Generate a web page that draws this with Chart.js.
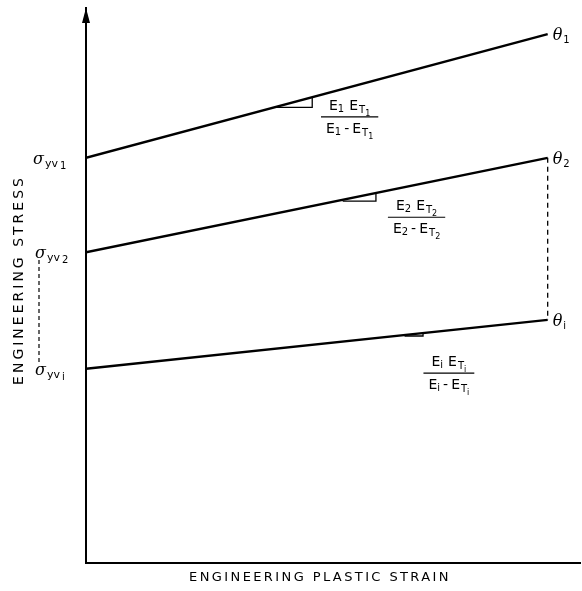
<!DOCTYPE html>
<html>
<head>
<meta charset="utf-8">
<script src="https://cdn.jsdelivr.net/npm/chart.js@4.4.1/dist/chart.umd.min.js"></script>
<style>
  html, body { margin: 0; padding: 0; background: #fff; }
  #wrap { width: 582px; height: 591px; }
</style>
</head>
<body>
<div id="wrap"><canvas id="c" width="582" height="591"></canvas></div>
<script>
// Bilinear hardening lines: plastic strain at start/end, stress at start/end
const strain = [0, 1.0];
const stressTheta1 = [73, 95.3];
const stressTheta2 = [56, 73];
const stressThetaI = [35, 43.8];

// Slope markers (small right triangles) sitting on each line
const tri1Strain = [0.41, 0.49, 0.49];
const tri1Stress = [82.1, 82.1, 83.9];
const tri2Strain = [0.556, 0.628, 0.628];
const tri2Stress = [65.2, 65.2, 66.7];
const tri3Strain = [0.69, 0.73, 0.73];
const tri3Stress = [40.9, 40.9, 41.4];

// Dashed bracket joining the theta2 and theta-i end points
const bracketStrain = [1.0, 1.0];
const bracketStress = [73, 43.8];

// Dashed bracket on the stress axis between the yield labels
const yieldBracketStress = [54.6, 36.0];

// Labels
const yieldSubs = ['1', '2', 'i'];
const yieldStress = [73, 56, 35];
const thetaSubs = ['1', '2', 'i'];
const thetaStress = [95.3, 73, 43.8];
const slopeSubs = ['1', '2', 'i'];
const slopeStrain = [0.571, 0.716, 0.786];
const slopeStress = [80.4, 62.3, 34.2];

const xTitle = 'ENGINEERING PLASTIC STRAIN';
const yTitle = 'ENGINEERING STRESS';

function pts(xs, ys) { return xs.map((x, i) => ({ x, y: ys[i] })); }

const lineStyle = { showLine: true, pointRadius: 0, borderColor: '#000', borderWidth: 2.4, fill: false, tension: 0 };
const thinStyle = { showLine: true, pointRadius: 0, borderColor: '#000', borderWidth: 1.3, fill: false, tension: 0 };

const FAM = '"DejaVu Sans", sans-serif';

function rich(ctx, x, y, parts, align) {
  let w = 0;
  parts.forEach(p => { ctx.font = p.f; p.w = ctx.measureText(p.t).width + (p.gap || 0); w += p.w; });
  let cx = align === 'center' ? x - w / 2 : (align === 'right' ? x - w : x);
  parts.forEach(p => { ctx.font = p.f; ctx.fillText(p.t, cx, y + (p.dy || 0)); cx += p.w; });
  return w;
}

const annotations = {
  id: 'annotations',
  afterDraw(chart) {
    const ctx = chart.ctx;
    const xs = chart.scales.x, ys = chart.scales.y;
    const area = chart.chartArea;
    ctx.save();
    ctx.fillStyle = '#000';
    ctx.strokeStyle = '#000';
    ctx.textBaseline = 'alphabetic';

    // arrow head at the top of the stress axis
    ctx.beginPath();
    ctx.moveTo(area.left, area.top);
    ctx.lineTo(area.left - 4, area.top + 15);
    ctx.lineTo(area.left + 4, area.top + 15);
    ctx.closePath();
    ctx.fill();

    const F = '14px ' + FAM, S = '10px ' + FAM, SS = '8px ' + FAM;
    const G = 'italic 16px "DejaVu Serif", serif';

    // yield stress labels on the stress axis
    const yieldX = [33, 35, 35];
    yieldSubs.forEach((s, i) => {
      const py = ys.getPixelForValue(yieldStress[i]) + 6;
      rich(ctx, yieldX[i], py, [
        { t: 'σ', f: G, gap: 1 },
        { t: 'yv', f: '11px ' + FAM, dy: 3, gap: 2 },
        { t: s, f: S, dy: 5 }
      ], 'left');
    });

    // dashed bracket between sigma_yv2 and sigma_yvi
    ctx.lineWidth = 1.2;
    ctx.setLineDash([4, 3]);
    ctx.beginPath();
    ctx.moveTo(39, ys.getPixelForValue(yieldBracketStress[0]));
    ctx.lineTo(39, ys.getPixelForValue(yieldBracketStress[1]));
    ctx.stroke();
    ctx.setLineDash([]);

    // theta labels at the right end of each line
    thetaSubs.forEach((s, i) => {
      const px = xs.getPixelForValue(strain[1]) + 5;
      const py = ys.getPixelForValue(thetaStress[i]) + 6;
      rich(ctx, px, py, [
        { t: 'θ', f: G, gap: 1 },
        { t: s, f: S, dy: 3 }
      ], 'left');
    });

    // tangent modulus fractions
    slopeSubs.forEach((s, i) => {
      const cx = xs.getPixelForValue(slopeStrain[i]);
      const by = ys.getPixelForValue(slopeStress[i]);
      const num = [
        { t: 'E', f: F }, { t: s, f: S, dy: 2, gap: 5 },
        { t: 'E', f: F, gap: 1 }, { t: 'T', f: S, dy: 3 }, { t: s, f: SS, dy: 6 }
      ];
      const den = [
        { t: 'E', f: F }, { t: s, f: S, dy: 2, gap: 3 },
        { t: '-', f: F, gap: 3 },
        { t: 'E', f: F, gap: 1 }, { t: 'T', f: S, dy: 3 }, { t: s, f: SS, dy: 6 }
      ];
      rich(ctx, cx, by - 7, num, 'center');
      const dw = rich(ctx, cx, by + 16, den, 'center');
      ctx.lineWidth = 1.2;
      ctx.beginPath();
      ctx.moveTo(cx - dw / 2 - 5, by);
      ctx.lineTo(cx + dw / 2 + 5, by);
      ctx.stroke();
    });

    // axis titles
    ctx.textAlign = 'center';
    ctx.textBaseline = 'middle';
    ctx.font = '13px ' + FAM;
    ctx.letterSpacing = '2.4px';
    ctx.fillText(xTitle, 320, 578);
    ctx.font = '14px ' + FAM;
    ctx.letterSpacing = '3px';
    ctx.translate(19, 280);
    ctx.rotate(-Math.PI / 2);
    ctx.fillText(yTitle, 0, 0);
    ctx.restore();
  }
};

new Chart(document.getElementById('c'), {
  type: 'scatter',
  data: {
    datasets: [
      { data: pts(strain, stressTheta1), ...lineStyle },
      { data: pts(strain, stressTheta2), ...lineStyle },
      { data: pts(strain, stressThetaI), ...lineStyle },
      { data: pts(tri1Strain, tri1Stress), ...thinStyle },
      { data: pts(tri2Strain, tri2Stress), ...thinStyle },
      { data: pts(tri3Strain, tri3Stress), ...thinStyle },
      { data: pts(bracketStrain, bracketStress), ...thinStyle, borderDash: [5, 4] }
    ]
  },
  options: {
    responsive: false,
    devicePixelRatio: 1,
    animation: false,
    layout: { padding: { left: 86, right: 2, top: 8, bottom: 28 } },
    plugins: { legend: { display: false }, tooltip: { enabled: false } },
    scales: {
      x: {
        type: 'linear', min: 0, max: 1.07,
        grid: { display: false, drawTicks: false },
        border: { display: true, color: '#000', width: 2 },
        ticks: { display: false }
      },
      y: {
        type: 'linear', min: 0, max: 100,
        grid: { display: false, drawTicks: false },
        border: { display: true, color: '#000', width: 2 },
        ticks: { display: false }
      }
    }
  },
  plugins: [annotations]
});
</script>
</body>
</html>
